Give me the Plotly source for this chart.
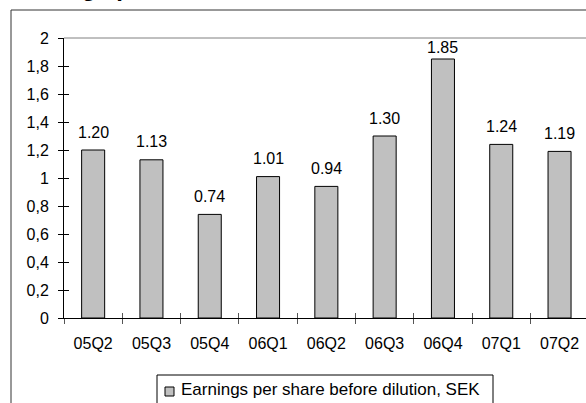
import plotly.graph_objects as go

# ---- data ----
categories = ["05Q2", "05Q3", "05Q4", "06Q1", "06Q2", "06Q3", "06Q4", "07Q1", "07Q2"]
eps_values = [1.20, 1.13, 0.74, 1.01, 0.94, 1.30, 1.85, 1.24, 1.19]
series_name = "Earnings per share before dilution, SEK"
title_text = "Earnings per share"
y_tickvals = [0, 0.2, 0.4, 0.6, 0.8, 1.0, 1.2, 1.4, 1.6, 1.8, 2.0]
y_ticktext = ["0", "0,2", "0,4", "0,6", "0,8", "1", "1,2", "1,4", "1,6", "1,8", "2"]

# ---- layout geometry (pixels) ----
W, H = 586, 403
L, R, T, B = 64, 0, 38, 85
plot_w = W - L - R
plot_h = H - T - B
cat_px = 58.3
y_max = 2.0
px_per_unit = plot_h / y_max


def px_x(px):
    return (px - L) / plot_w


def px_y(py):
    return (H - B - py) / plot_h


FONT = "Liberation Sans, Arial, sans-serif"

fig = go.Figure()
fig.add_trace(go.Bar(
    x=categories, y=eps_values, name=series_name,
    marker=dict(color="#c0c0c0", line=dict(color="black", width=1)),
    showlegend=False, hoverinfo="x+y",
))
# invisible helper traces so the overlay axes (crossing tick marks) render
fig.add_trace(go.Scatter(x=categories, y=eps_values, yaxis="y2", mode="markers",
                         marker=dict(opacity=0), showlegend=False, hoverinfo="skip"))
fig.add_trace(go.Scatter(x=categories, y=eps_values, xaxis="x2", mode="markers",
                         marker=dict(opacity=0), showlegend=False, hoverinfo="skip"))

x_range = [-0.5, -0.5 + plot_w / cat_px]

fig.update_layout(
    width=W, height=H,
    margin=dict(l=L, r=R, t=T, b=B, pad=0),
    paper_bgcolor="white", plot_bgcolor="white",
    font=dict(family=FONT, size=16, color="black"),
    bargap=0.605,
    showlegend=False,
    xaxis=dict(type="category", categoryorder="array", categoryarray=categories,
               range=x_range, showgrid=False, zeroline=False,
               showline=True, linecolor="black", linewidth=1,
               ticks="outside", ticklen=5, tickcolor="#555", tickwidth=1,
               tickson="boundaries", ticklabelstandoff=11,
               tickfont=dict(size=16)),
    xaxis2=dict(type="category", categoryorder="array", categoryarray=categories,
                overlaying="x", anchor="y", side="bottom",
                range=x_range, showgrid=False, zeroline=False, showline=False,
                ticks="inside", ticklen=5, tickcolor="#555", tickwidth=1,
                tickson="boundaries", showticklabels=False),
    yaxis=dict(range=[0, y_max], tickvals=y_tickvals, ticktext=y_ticktext,
               showgrid=False, zeroline=False,
               showline=True, linecolor="black", linewidth=1,
               ticks="outside", ticklen=5, tickcolor="black", tickwidth=1,
               ticklabelstandoff=6, tickfont=dict(size=16)),
    yaxis2=dict(range=[0, y_max], tickvals=y_tickvals, overlaying="y", anchor="x",
                side="left", showgrid=False, zeroline=False, showline=False,
                ticks="inside", ticklen=5, tickcolor="black", tickwidth=1,
                showticklabels=False),
)

# value labels above bars (kept inside the plot area like the original)
label_off = 18 / px_per_unit
label_cap = y_max - 9 / px_per_unit
for c, v in zip(categories, eps_values):
    fig.add_annotation(x=c, y=min(v + label_off, label_cap), text=f"{v:.2f}",
                       showarrow=False, xanchor="center", yanchor="middle",
                       font=dict(size=16, color="black"))

shapes = [
    # plot-area top border (grey)
    dict(type="line", xref="paper", yref="paper", x0=0, x1=1.05, y0=1, y1=1,
         line=dict(color="#808080", width=1)),
    # outer chart frame (clipped at right/bottom)
    dict(type="rect", xref="paper", yref="paper",
         x0=px_x(11), x1=px_x(W + 20), y0=px_y(10), y1=px_y(H + 20),
         line=dict(color="#333333", width=1), fillcolor="rgba(0,0,0,0)", layer="below"),
    # legend box
    dict(type="rect", xref="paper", yref="paper",
         x0=px_x(157), x1=px_x(493), y0=px_y(375), y1=px_y(H + 20),
         line=dict(color="black", width=1), fillcolor="white"),
    # legend swatch
    dict(type="rect", xref="paper", yref="paper",
         x0=px_x(165), x1=px_x(174), y0=px_y(387), y1=px_y(396),
         line=dict(color="black", width=1), fillcolor="#c0c0c0"),
]
fig.update_layout(shapes=shapes)

fig.add_annotation(xref="paper", yref="paper", x=px_x(179), y=px_y(389.5),
                   text=series_name, showarrow=False, xanchor="left", yanchor="middle",
                   font=dict(size=17, color="black"))

# clipped chart title at very top
fig.add_annotation(xref="paper", yref="paper", x=px_x(5), y=px_y(-12),
                   text=f"<b>{title_text}</b>", showarrow=False,
                   xanchor="left", yanchor="middle",
                   font=dict(size=24, color="black"))

fig.write_html("out.html")
